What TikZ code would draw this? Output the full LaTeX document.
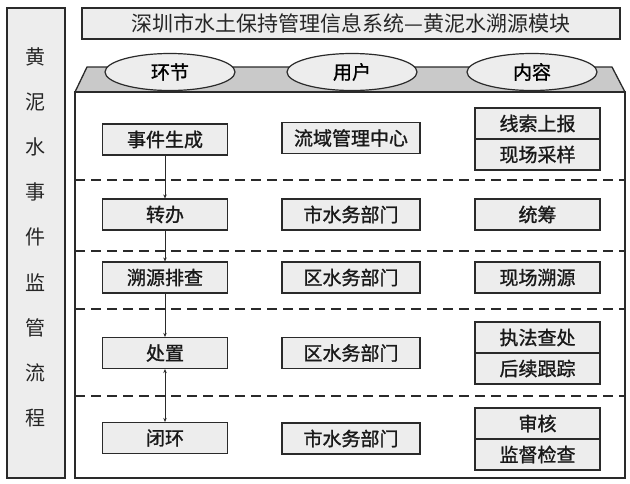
\documentclass[tikz,border=0pt]{standalone}
\usepackage{fontspec}
\newfontfamily\cjk{Noto Sans CJK SC}
\newfontfamily\cjkbold{Noto Sans CJK SC}[FakeBold=1.2]
\usetikzlibrary{arrows.meta,shapes.geometric}
\definecolor{boxfill}{HTML}{EDEDED}
\definecolor{topfill}{HTML}{C9C9C9}
\definecolor{edge}{HTML}{2A2A2A}
\begin{document}
\begin{tikzpicture}[x=1pt,y=-1pt,
  panel/.style={draw=edge, line width=1.3pt, fill=boxfill, inner sep=0pt},
  cell/.style={draw=edge, line width=1.2pt, fill=boxfill, inner sep=0pt, minimum height=31pt, font=\cjkbold\fontsize{19}{19}\selectfont, text=black!90},
  headell/.style={ellipse, draw=edge, line width=1.2pt, fill=boxfill, inner sep=0pt, minimum width=130pt, minimum height=37pt, font=\cjkbold\fontsize{19}{19}\selectfont},
  sidechar/.style={font=\cjk\fontsize{20}{20}\selectfont, text=black!85, inner sep=0pt},
  sep/.style={draw=edge, line width=1.1pt, dash pattern=on 10pt off 6pt},
  flow/.style={draw=edge, line width=0.8pt, -{Stealth[length=4pt,width=3.5pt]}},
  flowboth/.style={draw=edge, line width=0.8pt, {Stealth[length=4pt,width=3.5pt]}-{Stealth[length=4pt,width=3.5pt]}}
]
\useasboundingbox (0,0) rectangle (630,483);
\fill[white] (0,0) rectangle (630,483);

% side panel
\node[panel, minimum width=58pt, minimum height=470pt] (side) at (36,243) {};
\foreach \c [count=\i] in {黄,泥,水,事,件,监,管,流,程}
  \node[sidechar] (s\i) at (36,{57+45.1*(\i-1)}) {\c};

% title
\node[panel, minimum width=538pt, minimum height=31pt, font=\cjk\fontsize{21}{21}\selectfont, text=black!85] (title) at (351,23.5) {深圳市水土保持管理信息系统—黄泥水溯源模块};

% main container
\draw[draw=edge, line width=1.3pt, fill=topfill] (87,67) -- (612,67) -- (625,92) -- (75,92) -- cycle;
\draw[draw=edge, line width=1.3pt, fill=white] (75,92) rectangle (625,478);

% header ellipses
\node[headell] (h1) at (170,72) {环节};
\node[headell] (h2) at (352,72) {用户};
\node[headell] (h3) at (532,72) {内容};

% separators
\foreach \y in {180,251,309,396}
  \draw[sep] (75,\y) -- (625,\y);

% column 1
\node[cell, minimum width=125pt] (a1) at (165,139.5) {事件生成};
\node[cell, minimum width=125pt] (a2) at (165,214.5) {转办};
\node[cell, minimum width=125pt] (a3) at (165,277.5) {溯源排查};
\node[cell, minimum width=125pt] (a4) at (165,353) {处置};
\node[cell, minimum width=125pt] (a5) at (165,438) {闭环};

% column 2
\node[cell, minimum width=138pt] (b1) at (351,138) {流域管理中心};
\node[cell, minimum width=138pt] (b2) at (351,214.5) {市水务部门};
\node[cell, minimum width=138pt] (b3) at (351,277.5) {区水务部门};
\node[cell, minimum width=138pt] (b4) at (351,353) {区水务部门};
\node[cell, minimum width=138pt] (b5) at (351,438.5) {市水务部门};

% column 3
\node[cell, minimum width=125pt] (c1a) at (537.5,123.5) {线索上报};
\node[cell, minimum width=125pt] (c1b) at (537.5,154.5) {现场采样};
\node[cell, minimum width=125pt] (c2) at (537.5,214.5) {统筹};
\node[cell, minimum width=125pt] (c3) at (537.5,277.5) {现场溯源};
\node[cell, minimum width=125pt] (c4a) at (537.5,337.5) {执法查处};
\node[cell, minimum width=125pt] (c4b) at (537.5,368.5) {后续跟踪};
\node[cell, minimum width=125pt] (c5a) at (537.5,423.5) {审核};
\node[cell, minimum width=125pt] (c5b) at (537.5,454.5) {监督检查};

% flow arrows
\draw[flow] (a1.south) -- (a2.north);
\draw[flow] (a2.south) -- (a3.north);
\draw[flow] (a3.south) -- (a4.north);
\draw[flowboth] (a4.south) -- (a5.north);
\end{tikzpicture}
\end{document}
